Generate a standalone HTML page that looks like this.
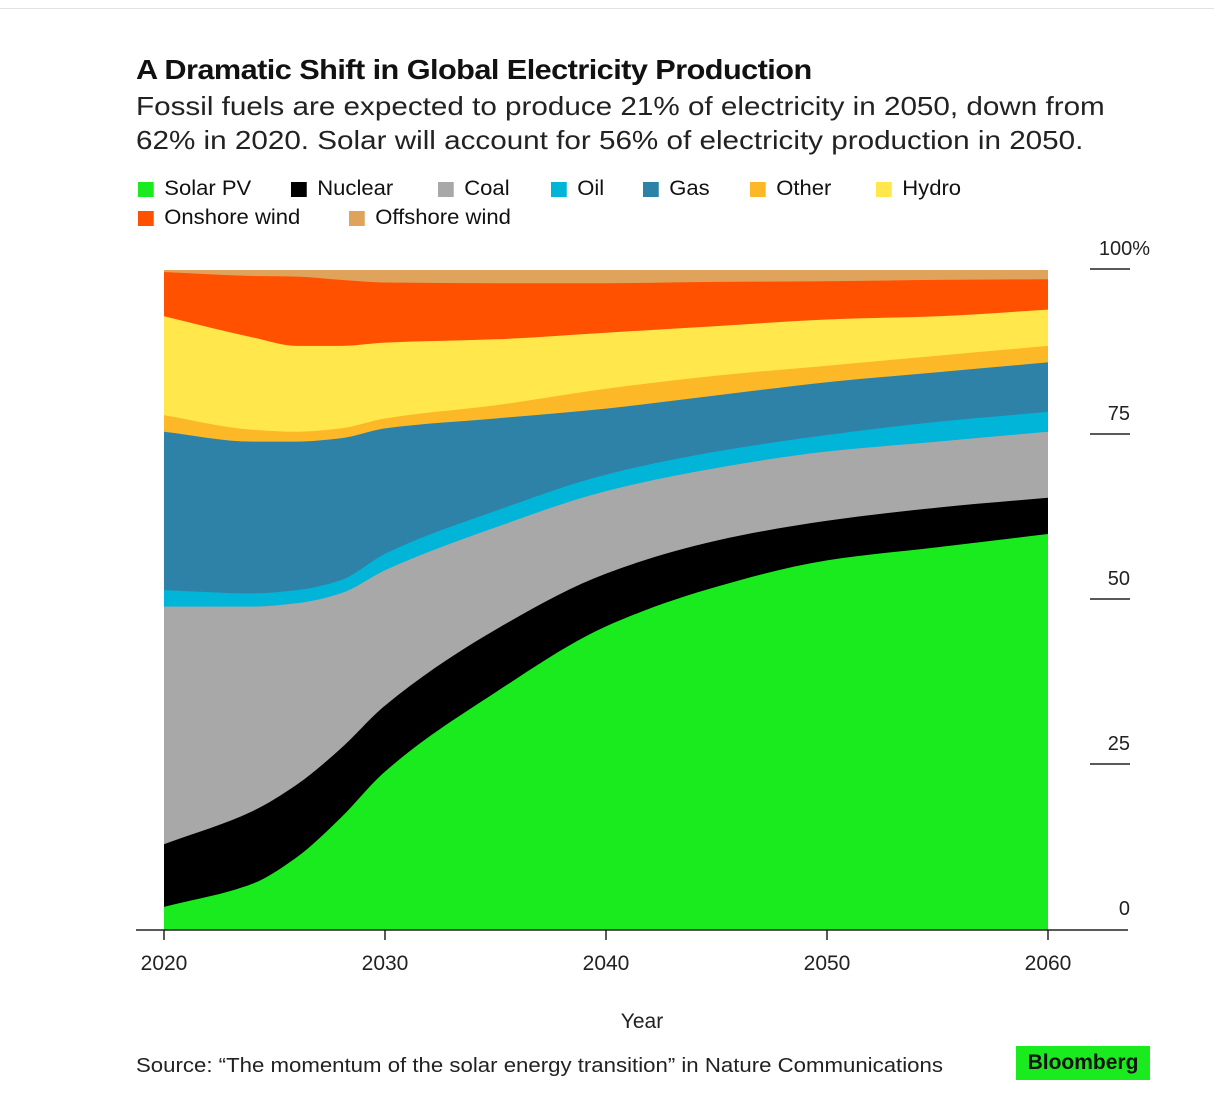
<!DOCTYPE html>
<html><head><meta charset="utf-8">
<style>
body{margin:0;background:#fff;font-family:"Liberation Sans",sans-serif;color:#111;}
#wrap{position:relative;width:1214px;height:1120px;overflow:hidden;}
.t{position:absolute;white-space:nowrap;transform-origin:0 0;}
.leg{position:absolute;font-size:21px;display:flex;align-items:center;transform-origin:0 0;transform:scaleX(1.05);}
.sw{width:15px;height:15px;margin-right:10px;display:inline-block;}
</style></head><body>
<div id="wrap">
<div style="position:absolute;left:0;top:8px;width:1214px;height:1px;background:#e2e2e2"></div>
<div class="t" style="left:136px;top:54px;font-size:28px;font-weight:bold;letter-spacing:-0.5px;transform:scaleX(1.095)">A Dramatic Shift in Global Electricity Production</div>
<div class="t" style="left:136px;top:89px;font-size:26px;line-height:34px;color:#222;transform:scaleX(1.14)">Fossil fuels are expected to produce 21% of electricity in 2050, down from<br>62% in 2020. Solar will account for 56% of electricity production in 2050.</div>
<div id="legend"></div>
<svg id="chart" width="1214" height="1120" style="position:absolute;left:0;top:0"></svg>
<div class="t" style="left:136px;top:1055px;font-size:20px;color:#222;transform:scaleX(1.11)">Source: “The momentum of the solar energy transition” in Nature Communications</div>
<div class="t" style="left:1016px;top:1046px;width:134px;height:34px;background:#1aeb1e;font-size:21px;font-weight:bold;line-height:34px;text-align:center">Bloomberg</div>
</div>
<script>
const years=[2020,2024,2026,2028,2030,2035,2040,2045,2050,2055,2060];
const seriesNames=["Solar PV","Nuclear","Coal","Oil","Gas","Other","Hydro","Onshore wind","Offshore wind"];
const solar=[3.5,7,11,17,24,36,46,52,56,58,60];
const nuclear=[9.5,11,11,10.5,10,9.5,8,7,6,6,5.5];
const coal=[36,31,27.5,23.5,20.5,15.5,12.5,11,10.5,10,10];
const oil=[2.5,2,2,2,2.5,2.5,2.5,2.5,2.5,3,3];
const gas=[24,23,22.5,21.5,19,14,10,8.5,8,7.5,7.5];
const other=[2.5,1.8,1.5,1.5,1.5,2,3,3,2.5,2.5,2.5];
const hydro=[15,14,13,12.5,11.5,10,8.5,7.5,7,6,5.5];
const onshore=[6.7,9.3,10.5,10,9.1,8.5,7.5,6.7,5.8,5.5,4.6];
const offshore=[0.3,1.2,1.5,1.8,2,2,2,1.8,1.7,1.5,1.4];
const xTicks=[2020,2030,2040,2050,2060];
const yTicks=[0,25,50,75,100];
const yTickLabels=["0","25","50","75","100%"];
const colors=["#1aeb1e","#000000","#a8a8a8","#00b5d8","#2e82a8","#fdb827","#ffe74c","#ff5100","#e0a35c"];
const all=[solar,nuclear,coal,oil,gas,other,hydro,onshore,offshore];
const X=y=>164+(y-2020)*(1048-164)/40;
const Y=v=>930-v*6.6;
const NS="http://www.w3.org/2000/svg";
const svg=document.getElementById('chart');
function mk(t,a){const e=document.createElementNS(NS,t);for(const k in a)e.setAttribute(k,a[k]);svg.appendChild(e);return e;}
function curve(pts){
  const n=pts.length,dx=[],s=[],m=[];
  for(let i=0;i<n-1;i++){dx[i]=pts[i+1][0]-pts[i][0];s[i]=(pts[i+1][1]-pts[i][1])/dx[i];}
  m[0]=s[0];m[n-1]=s[n-2];
  for(let i=1;i<n-1;i++){
    if(s[i-1]*s[i]<=0)m[i]=0;
    else{const w1=2*dx[i]+dx[i-1],w2=dx[i]+2*dx[i-1];m[i]=(w1+w2)/(w1/s[i-1]+w2/s[i]);}
  }
  let d="M"+pts[0][0]+","+pts[0][1];
  for(let i=0;i<n-1;i++){
    const h=dx[i]/3;
    d+=" C"+(pts[i][0]+h)+","+(pts[i][1]+m[i]*h)+" "+(pts[i+1][0]-h)+","+(pts[i+1][1]-m[i+1]*h)+" "+pts[i+1][0]+","+pts[i+1][1];
  }
  return d;
}
const cum=[];
let run=years.map(()=>0);
all.forEach(s=>{run=run.map((v,i)=>v+s[i]);cum.push(run.slice());});
const names=["solar-pv","nuclear","coal","oil","gas","other","hydro","onshore-wind","offshore-wind"];
for(let k=all.length-1;k>=0;k--){
  const pts=years.map((y,i)=>[X(y),Y(Math.min(100,cum[k][i]))]);
  const d=curve(pts)+" L"+X(2060)+","+Y(0)+" L"+X(2020)+","+Y(0)+" Z";
  const p=mk('path',{d:d,fill:colors[k]});
  
  
}
const ax=mk('line',{x1:136,x2:1128,y1:Y(0),y2:Y(0),stroke:'#222','stroke-width':1.5});


xTicks.forEach(t=>{
  const l=mk('line',{x1:X(t),x2:X(t),y1:Y(0),y2:Y(0)+10,stroke:'#222','stroke-width':1.5});
  
  
  const tx=mk('text',{x:X(t),y:970,'text-anchor':'middle','font-size':21,fill:'#222'});
  tx.textContent=t;
  
  
});
yTicks.forEach((t,i)=>{
  if(t>0){
    const l=mk('line',{x1:1090,x2:1130,y1:Y(t)-1,y2:Y(t)-1,stroke:'#222','stroke-width':1.5});
    
    
  }
  const tx=mk('text',{x:1130,y:Y(t)-15,'text-anchor':'end','font-size':20,fill:'#222'});
  if(t===100){tx.setAttribute('x',1150);}
  tx.textContent=yTickLabels[i];
  
  
});
const xt=mk('text',{x:642,y:1028,'text-anchor':'middle','font-size':21,fill:'#222'});
xt.textContent="Year";


const legPos=[[138,177],[291,177],[438,177],[551,177],[643,177],[750,177],[876,177],[138,206],[349,206]];
const leg=document.getElementById('legend');
seriesNames.forEach((n,i)=>{
  const d=document.createElement('div');
  d.className='leg';
  d.style.left=legPos[i][0]+'px';d.style.top=legPos[i][1]+'px';
  d.innerHTML='<span class="sw" style="background:'+colors[i]+'"></span>'+n;
  
  
  leg.appendChild(d);
});
</script>
</body></html>
